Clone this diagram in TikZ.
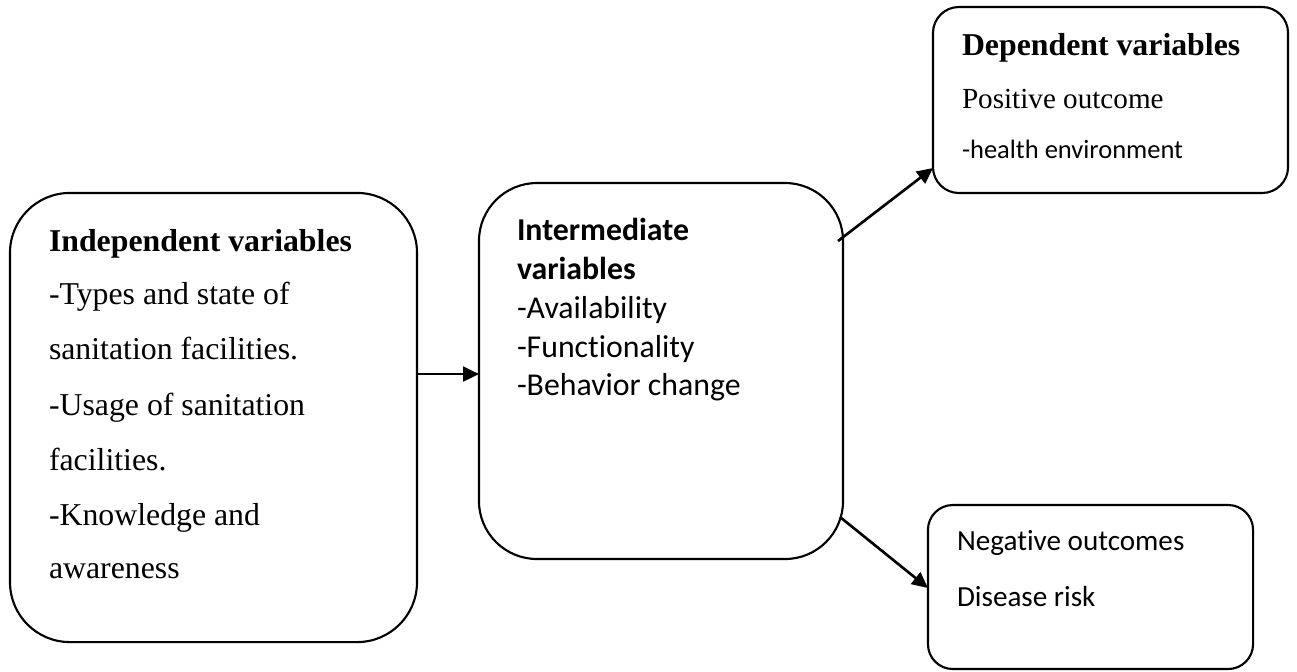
\documentclass[tikz,border=0pt]{standalone}
\usepackage{fontspec}
\setmainfont{Liberation Serif}
\newfontfamily\calfont[Ligatures=NoCommon]{Carlito}
\usetikzlibrary{arrows.meta}
\begin{document}
\begin{tikzpicture}[x=0.3774pt,y=-0.3774pt,
  box/.style={draw,line width=0.8pt,inner sep=0pt,outer sep=0pt},
  txt/.style={anchor=base west,inner sep=0pt,outer sep=0pt},
  tms/.style={txt,font=\fontsize{12}{14}\selectfont},
  tmsb/.style={txt,font=\fontsize{12}{14}\selectfont\bfseries},
  tms11/.style={txt,font=\fontsize{11}{13}\selectfont},
  cal/.style={txt,font=\calfont\fontsize{12}{14}\selectfont},
  calb/.style={txt,font=\calfont\fontsize{12}{14}\selectfont\bfseries},
  cal11/.style={txt,font=\calfont\fontsize{11}{13}\selectfont},
  cal10/.style={txt,font=\calfont\fontsize{10}{12}\selectfont},
  arr/.style={line width=1pt,-{Triangle[length=6pt,width=5.6pt]}}]
\useasboundingbox (0,0) rectangle (1297,671);
% boxes
\node[box,minimum width=153.6pt,minimum height=169.5pt,rounded corners=22.6pt] (left) at (213.5,417.5) {};
\node[box,minimum width=137.4pt,minimum height=141.9pt,rounded corners=21.9pt] (mid) at (661,371) {};
\node[box,minimum width=134pt,minimum height=70.2pt,rounded corners=9.8pt] (tr) at (1110.5,100) {};
\node[box,minimum width=122.7pt,minimum height=61.9pt,rounded corners=9.4pt] (br) at (1090.5,587) {};
% left text
\node[tmsb] (l1) at (49,251) {Independent variables};
\node[tms] (l2) at (49,304) {-Types and state of};
\node[tms] (l3) at (49,359) {sanitation facilities.};
\node[tms] (l4) at (49,415) {-Usage of sanitation};
\node[tms] (l5) at (49,470) {facilities.};
\node[tms] (l6) at (49,525) {-Knowledge and};
\node[tms] (l7) at (49,578) {awareness};
% middle text
\node[calb] (m1) at (517,240) {Intermediate};
\node[calb] (m2) at (517,279) {variables};
\node[cal] (m3) at (517,318) {-Availability};
\node[cal] (m4) at (517,357) {-Functionality};
\node[cal] (m5) at (517,395) {-Behavior change};
% top right text
\node[tmsb] (t1) at (962,55) {Dependent variables};
\node[tms11] (t2) at (962,108) {Positive outcome};
\node[cal10] (t3) at (962,158) {-health environment};
% bottom right text
\node[cal11] (b1) at (957,550) {Negative outcomes};
\node[cal11] (b2) at (957,606) {Disease risk};
% connectors
\coordinate (a1s) at (417,374);
\coordinate (a2s) at (838,241);
\coordinate (a2e) at (933,168);
\coordinate (a3s) at (840,517);
\coordinate (a3e) at (928,588);
\draw[arr] (a1s) -- (a1s -| mid.west);
\draw[arr] (a2s) -- (tr.west |- a2e);
\draw[arr] (a3s) -- (br.west |- a3e);
\end{tikzpicture}
\end{document}
